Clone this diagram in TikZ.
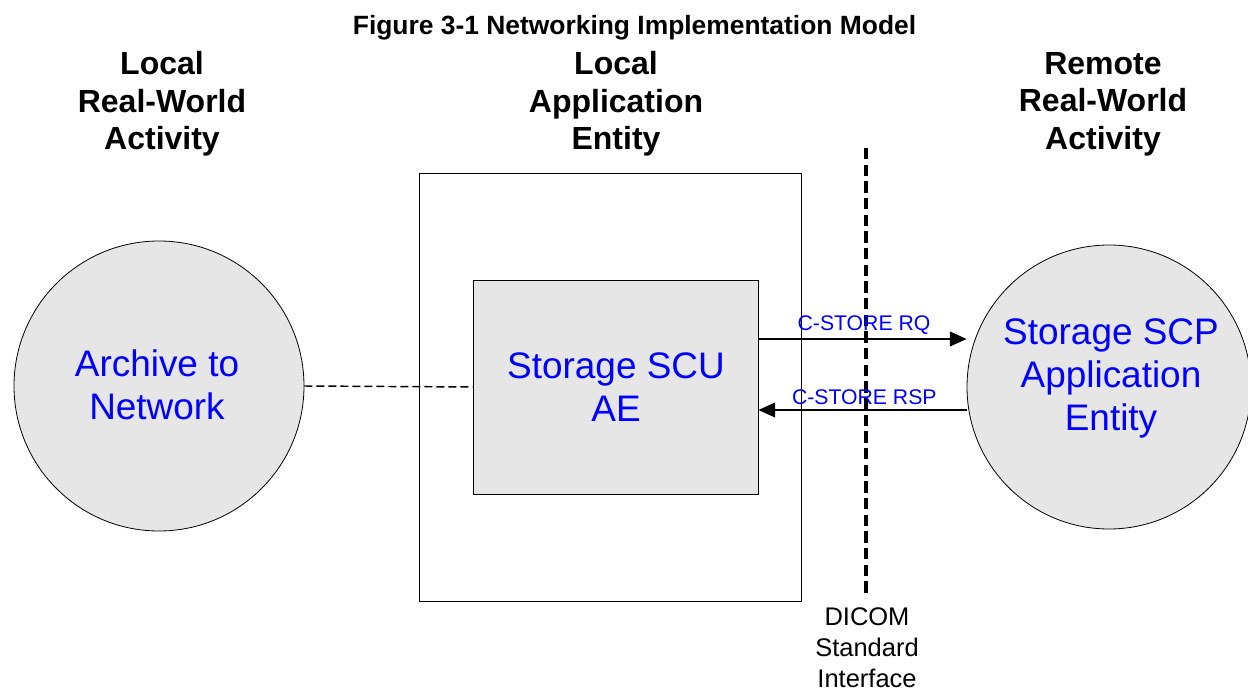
\documentclass[tikz,border=0pt]{standalone}
\usepackage{fontspec}
\setmainfont{Liberation Sans}
\usetikzlibrary{arrows.meta}
\definecolor{fillgray}{HTML}{E6E6E6}
\definecolor{txtblue}{HTML}{0000FF}
\begin{document}
\begin{tikzpicture}[x=0.75pt,y=-0.75pt,
  hdr/.style={font=\fontsize{24}{28.1}\selectfont\bfseries,align=center,inner sep=0pt},
  bluetxt/.style={text=txtblue,font=\fontsize{27.7}{32.5}\selectfont,align=center,inner sep=0pt},
  msg/.style={text=txtblue,font=\fontsize{15.9}{18}\selectfont,inner sep=0pt},
  ent/.style={circle,draw=black,line width=0.6pt,fill=fillgray,minimum size=290*0.75pt,inner sep=0pt},
  link/.style={draw=black,line width=1.1pt,-{Triangle[length=12.5pt,width=11pt]}}]
\useasboundingbox (0,0) rectangle (1248,691);
\node[font=\fontsize{19.8}{22}\selectfont\bfseries,inner sep=0pt] (title) at (634.5,27.5) {Figure 3-1 Networking Implementation Model};
\node[hdr] (h1) at (162,104) {Local\\Real-World\\Activity};
\node[hdr] (h2) at (616,104) {Local\\Application\\Entity};
\node[hdr] (h3) at (1103,104) {Remote\\Real-World\\Activity};
\node[draw=black,line width=0.6pt,minimum width=382*0.75pt,minimum height=428*0.75pt,inner sep=0pt] (outer) at (610,387) {};
\node[ent] (left) at (159,386) {};
\node[bluetxt] (ltxt) at (157,385) {Archive to\\Network};
\node[draw=black,line width=0.6pt,fill=fillgray,minimum width=285*0.75pt,minimum height=214*0.75pt,inner sep=0pt] (scu) at (615.5,387) {};
\node[bluetxt] (stxt) at (616,387) {Storage SCU\\AE};
\node[ent,minimum size=284*0.75pt] (right) at (1109,387) {};
\node[bluetxt] (rtxt) at (1111,378.5) {Storage SCP\\Application\\Entity};
\coordinate (dtop) at (866,148);
\coordinate (dbot) at (866,598);
\draw[line width=2.4pt,dash pattern=on 8.5pt off 4pt] (dtop) -- (dbot);
\draw[line width=1.1pt,dash pattern=on 6pt off 3pt] (left.east) -- (scu.west);
\draw[link] (scu.east |- 0,339) -- (right.west |- 0,339);
\draw[link] (right.west |- 0,410) -- (scu.east |- 0,410);
\node[msg] (rq) at (864,325.5) {C-STORE RQ};
\node[msg] (rsp) at (864.3,397.5) {C-STORE RSP};
\node[font=\fontsize{19.1}{23.4}\selectfont,align=center,inner sep=0pt] (dicom) at (867,647.5) {DICOM\\Standard\\Interface};
\end{tikzpicture}
\end{document}
